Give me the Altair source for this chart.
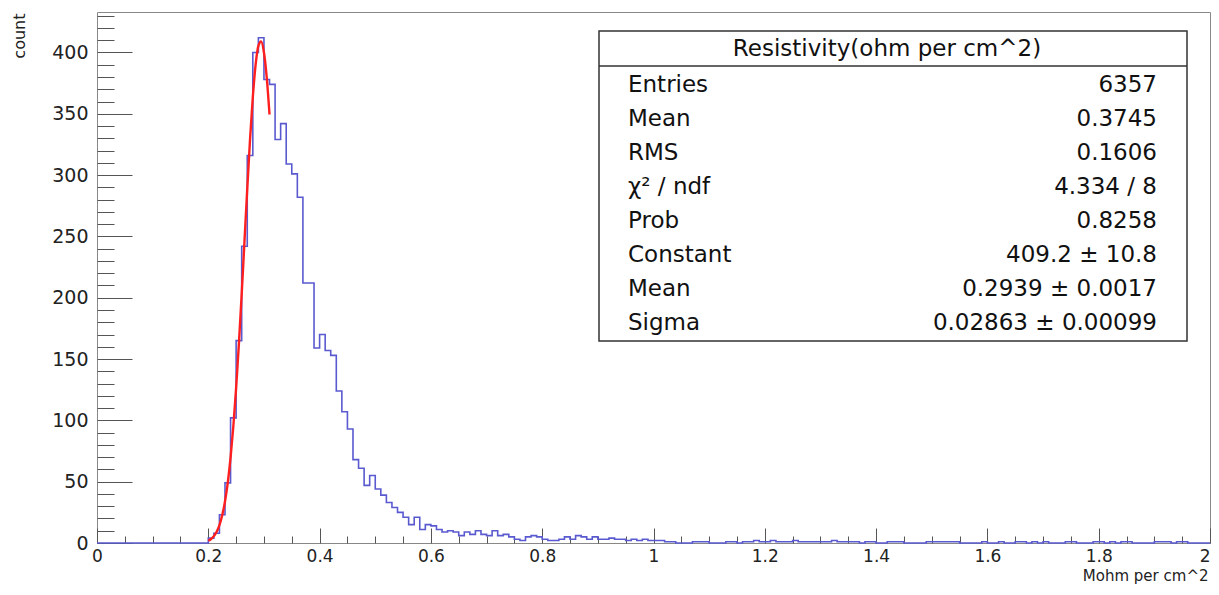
import altair as alt
import pandas as pd

# ---------------- data ----------------
bin_width = 0.01
counts_below = [0] * 20  # 0.00 - 0.20 : empty
counts_peak = [4, 8, 23, 49, 102, 165, 242, 316, 400, 412,
               378, 374, 329, 342, 309, 301, 282, 212, 212, 159,
               170, 157, 153, 124, 107, 93, 68, 61, 47, 55,
               44, 39, 33, 29, 25, 21, 15, 21, 11, 15, 14]          # 0.20 - 0.61
counts_mid = [11, 9, 10, 9, 6, 9, 7, 10, 7, 6,
              10, 6, 7, 5, 3, 2, 5, 6, 5, 3,
              2, 2, 3, 5, 3, 6, 5, 3, 5, 3,
              3, 4, 3, 3, 2, 3, 2, 3, 2, 2]                          # 0.61 - 1.01
counts_tail = [2, 1, 1, 0, 0, 0, 1, 1, 1, 0,
               0, 0, 1, 1, 0, 1, 1, 2, 1, 1,
               2, 1, 1, 1, 2, 1, 1, 1, 1, 1,
               1, 2, 1, 1, 1, 1, 0, 1, 1, 0,
               0, 1, 1, 1, 0, 0, 0, 0, 1, 1,
               1, 1, 1, 1, 0, 0, 0, 0, 1, 0,
               0, 1, 0, 0, 1, 1, 0, 1, 0, 1,
               0, 0, 0, 1, 1, 0, 0, 0, 1, 1,
               0, 1, 0, 1, 1, 0, 0, 0, 0, 1,
               1, 1, 0, 1, 1, 0, 0, 0, 0]                            # 1.01 - 2.00

# red fit curve
fit_x = [0.200, 0.205, 0.210, 0.215, 0.220, 0.225, 0.230, 0.235, 0.240, 0.245,
         0.250, 0.255, 0.260, 0.265, 0.270, 0.275, 0.280, 0.285, 0.290, 0.295,
         0.300, 0.305, 0.310]
fit_y = [1.9, 3.3, 5.6, 9.2, 14.6, 22.6, 33.9, 49.3, 69.6, 95.2,
         126.3, 162.6, 203.0, 245.9, 288.8, 329.1, 363.7, 389.9, 405.4, 409.0,
         400.0, 379.6, 349.4]

stats_title = "Resistivity(ohm per cm^2)"
stat_labels = ["Entries", "Mean", "RMS", "χ² / ndf", "Prob", "Constant", "Mean", "Sigma"]
stat_values = ["6357", "0.3745", "0.1606", "4.334 / 8", "0.8258",
               "409.2 ± 10.8", "0.2939 ± 0.0017", "0.02863 ± 0.00099"]

x_major = [0, 0.2, 0.4, 0.6, 0.8, 1, 1.2, 1.4, 1.6, 1.8, 2]
x_minor = [round(i * 0.05, 2) for i in range(41)]
y_major = [0, 50, 100, 150, 200, 250, 300, 350, 400]
y_minor = [i * 10 for i in range(44)]

# ---------------- tables ----------------
counts = counts_below + counts_peak + counts_mid + counts_tail
edges = [round(i * bin_width, 2) for i in range(len(counts))] + [2.0]
hist_df = pd.DataFrame({"x": edges, "count": counts + [counts[-1]]})
fit_df = pd.DataFrame({"x": fit_x, "y": fit_y})
stats_df = pd.DataFrame({"label": stat_labels, "value": stat_values,
                         "row": list(range(len(stat_labels)))})
one = pd.DataFrame({"a": [0]})

FONT = "DejaVu Sans"
W, H = 1113, 531

xscale = alt.Scale(domain=[0, 2], nice=False, zero=False)
yscale = alt.Scale(domain=[0, 433], nice=False)

hist = alt.Chart(hist_df).mark_line(
    interpolate="step-after", color="#5a5ad0", strokeWidth=1.6
).encode(
    x=alt.X("x:Q", scale=xscale, axis=alt.Axis(
        values=x_major, format="~g", ticks=False, tickSize=0, domain=False, grid=False,
        labelFont=FONT, labelFontSize=17, labelColor="#222", labelPadding=5,
        labelFlush=False, labelOverlap=False,
        labelAlign={"condition": {"test": "datum.value >= 1.99", "value": "right"},
                    "value": "center"},
        title="Mohm per cm^2", titleFont=FONT, titleFontSize=15, titleFontWeight="normal",
        titleColor="#222", titleAnchor="end", titleAlign="right",
        titleX=W - 2, titleY=32, titleBaseline="middle")),
    y=alt.Y("count:Q", scale=yscale, axis=alt.Axis(
        values=y_major, format="d", ticks=False, tickSize=0, domain=False, grid=False,
        labelFont=FONT, labelFontSize=19, labelColor="#222", labelPadding=9,
        labelOverlap=False,
        title="count", titleFont=FONT, titleFontSize=16, titleFontWeight="normal",
        titleColor="#222", titleAngle=-90, titleAlign="right", titleBaseline="middle",
        titleX=-78, titleY=1)),
)

fit = alt.Chart(fit_df).mark_line(
    color="#ff1f1f", strokeWidth=2.4, interpolate="monotone"
).encode(
    x=alt.X("x:Q", axis=alt.Axis(
        orient="top", offset=-H, values=x_minor, labels=False, domain=False, grid=False,
        ticks=True, tickColor="#555", tickWidth=1,
        tickSize={"condition": {"test": "abs(datum.value*5 - round(datum.value*5)) < 0.001",
                                "value": 15}, "value": 7},
        title=None)),
    y=alt.Y("y:Q", axis=alt.Axis(
        orient="right", offset=-W, values=y_minor, labels=False, domain=False, grid=False,
        ticks=True, tickColor="#555", tickWidth=1,
        tickSize={"condition": {"test": "datum.value % 50 == 0", "value": 35}, "value": 17},
        title=None)),
)

box = alt.Chart(one).mark_rect(fill="white", stroke="#333", strokeWidth=1.5).encode(
    x=alt.value(502), x2=alt.value(1090), y=alt.value(19), y2=alt.value(329)
)
sep = alt.Chart(one).mark_rule(color="#333", strokeWidth=1.5).encode(
    x=alt.value(502), x2=alt.value(1090), y=alt.value(54)
)
title_txt = alt.Chart(one).mark_text(
    font=FONT, fontSize=23, color="#111", align="center", baseline="middle"
).encode(x=alt.value(790), y=alt.value(37), text=alt.value(stats_title))

lab_txt = alt.Chart(stats_df).transform_calculate(
    ypos="73 + 34 * datum.row"
).mark_text(font=FONT, fontSize=23, color="#111", align="left", baseline="middle").encode(
    x=alt.value(531), y=alt.Y("ypos:Q", scale=None, axis=None), text="label:N"
)
val_txt = alt.Chart(stats_df).transform_calculate(
    ypos="73 + 34 * datum.row"
).mark_text(font=FONT, fontSize=23, color="#111", align="right", baseline="middle").encode(
    x=alt.value(1060), y=alt.Y("ypos:Q", scale=None, axis=None), text="value:N"
)

chart = alt.layer(hist, fit, box, sep, title_txt, lab_txt, val_txt).resolve_axis(
    x="independent", y="independent"
).properties(
    width=W, height=H,
    autosize=alt.AutoSizeParams(type="none"),
    padding={"left": 89, "top": 4, "right": 1, "bottom": 42},
    background="white",
).configure_view(stroke="#888", strokeWidth=1)

chart.save("out.html", embed_options={"renderer": "svg", "actions": False})
